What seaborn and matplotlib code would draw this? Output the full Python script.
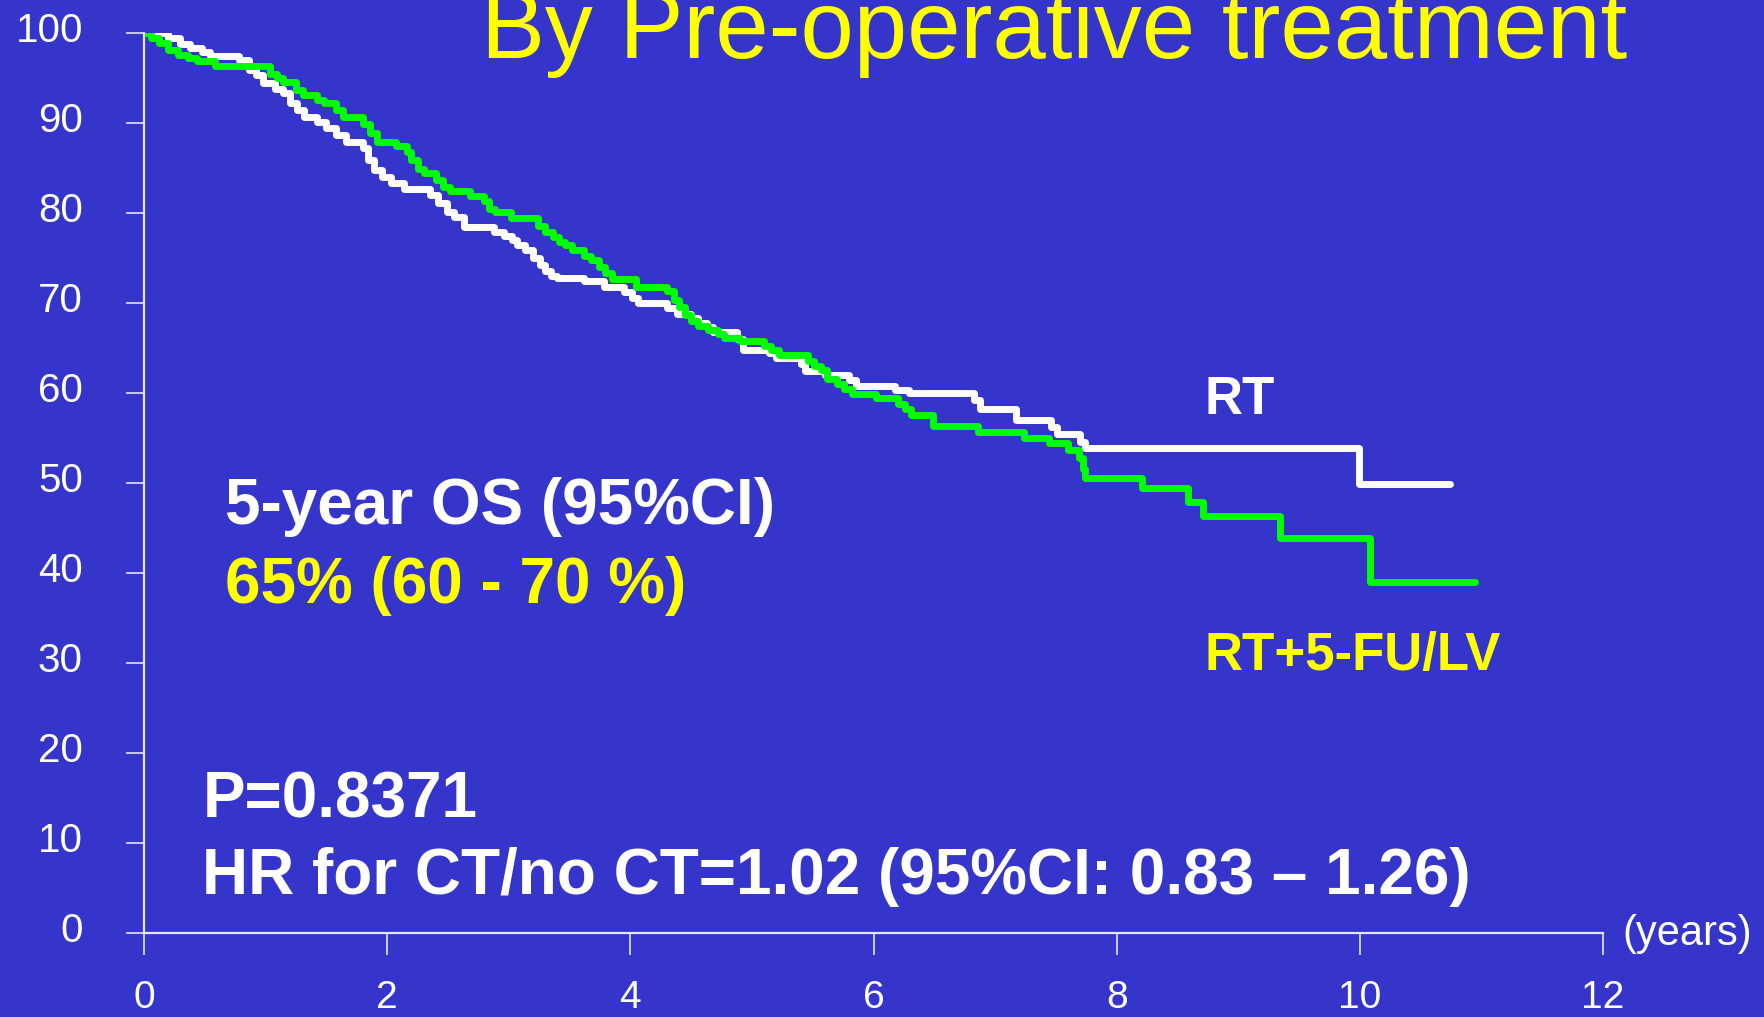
import pandas as pd
import matplotlib
matplotlib.use('Agg')
import matplotlib.pyplot as plt
import matplotlib.transforms as mtransforms
import seaborn as sns

# step points (time in years, survival %)
rt_time = [0, 0.20, 0.30, 0.38, 0.48, 0.54, 0.78, 0.86, 0.92, 0.98, 1.08, 1.14, 1.20, 1.26,
           1.32, 1.42, 1.50, 1.58, 1.66, 1.80, 1.84, 1.89, 1.96, 2.03, 2.14, 2.35, 2.42, 2.49,
           2.55, 2.63, 2.88, 2.96, 3.03, 3.07, 3.13, 3.20, 3.26, 3.30, 3.35, 3.40, 3.62, 3.78,
           3.95, 4.01, 4.06, 4.30, 4.38, 4.50, 4.56, 4.63, 4.68, 4.88, 4.93, 5.14, 5.20, 5.40,
           5.44, 5.60, 5.80, 5.86, 6.18, 6.29, 6.83, 6.88, 7.17, 7.46, 7.51, 7.70, 7.74, 9.99,
           10.74]
rt_surv = [100, 99.4, 98.8, 98.3, 97.9, 97.4, 97.0, 95.9, 95.3, 94.4, 93.8, 93.3, 92.2, 91.4,
           90.7, 90.1, 89.4, 88.7, 87.9, 87.2, 85.9, 84.8, 84.0, 83.3, 82.7, 82.0, 81.1, 80.1,
           79.6, 78.5, 77.9, 77.5, 77.0, 76.4, 75.9, 75.0, 74.2, 73.6, 73.0, 72.8, 72.4, 71.8,
           71.2, 70.6, 70.0, 69.4, 68.8, 68.3, 67.8, 67.3, 66.8, 66.0, 64.8, 64.4, 63.9, 63.2,
           62.4, 62.0, 61.4, 60.8, 60.3, 60.0, 59.2, 58.2, 57.0, 56.2, 55.4, 54.6, 53.9, 49.9,
           49.9]

ct_time = [0, 0.06, 0.12, 0.20, 0.28, 0.36, 0.44, 0.58, 1.04, 1.09, 1.14, 1.25, 1.31, 1.42,
           1.48, 1.58, 1.64, 1.80, 1.86, 1.92, 2.07, 2.16, 2.20, 2.25, 2.30, 2.40, 2.46, 2.52,
           2.68, 2.80, 2.84, 2.89, 3.02, 3.24, 3.30, 3.36, 3.41, 3.46, 3.52, 3.62, 3.68, 3.74,
           3.79, 3.85, 4.05, 4.30, 4.36, 4.40, 4.45, 4.50, 4.56, 4.64, 4.72, 4.77, 4.90, 5.10,
           5.16, 5.22, 5.46, 5.51, 5.57, 5.62, 5.70, 5.76, 5.82, 6.02, 6.20, 6.26, 6.31, 6.49,
           6.86, 7.24, 7.44, 7.60, 7.69, 7.72, 7.74, 8.21, 8.59, 8.71, 9.34, 10.08, 10.95]
ct_surv = [100, 99.4, 98.9, 98.1, 97.6, 97.2, 96.9, 96.3, 95.5, 95.0, 94.6, 93.7, 93.1, 92.6,
           92.2, 91.4, 90.7, 89.9, 88.9, 87.9, 87.4, 86.8, 85.9, 84.9, 84.4, 83.7, 82.9, 82.4,
           81.9, 81.3, 80.5, 80.1, 79.4, 78.6, 77.9, 77.3, 76.8, 76.4, 75.9, 75.2, 74.8, 74.0,
           73.3, 72.7, 71.8, 71.3, 70.3, 69.6, 68.7, 68.0, 67.4, 67.0, 66.6, 66.1, 65.8, 65.2,
           64.8, 64.2, 63.6, 63.0, 62.6, 61.6, 61.0, 60.5, 59.9, 59.5, 58.8, 58.2, 57.6, 56.3,
           55.7, 55.0, 54.4, 53.7, 52.8, 51.6, 50.6, 49.4, 47.9, 46.3, 43.9, 39.0, 39.0]

x_ticks = [0, 2, 4, 6, 8, 10, 12]
y_ticks = [0, 10, 20, 30, 40, 50, 60, 70, 80, 90, 100]

BG = '#3535CC'
AXC = '#E4E4F4'

df = pd.concat([
    pd.DataFrame({'t': rt_time, 's': rt_surv, 'arm': 'RT'}),
    pd.DataFrame({'t': ct_time, 's': ct_surv, 'arm': 'RT+5-FU/LV'}),
], ignore_index=True)

sns.set_style('white')
plt.rcParams['font.family'] = ['Liberation Sans', 'DejaVu Sans']

fig = plt.figure(figsize=(17.64, 10.17), dpi=100, facecolor=BG)
ax = fig.add_axes([144 / 1764, 1 - 933 / 1017, (1603 - 144) / 1764, 900 / 1017])
ax.set_facecolor(BG)

sns.lineplot(data=df, x='t', y='s', hue='arm', palette={'RT': 'white', 'RT+5-FU/LV': '#00FF00'},
             estimator=None, sort=False, drawstyle='steps-post', linewidth=5,
             legend=False, ax=ax)

ax.set_xlim(0, 12)
ax.set_ylim(0, 100)
ax.set_xticks(x_ticks)
ax.set_yticks(y_ticks)
ax.set_xlabel('')
ax.set_ylabel('')
for side in ['top', 'right']:
    ax.spines[side].set_visible(False)
for side in ['left', 'bottom']:
    ax.spines[side].set_color(AXC)
    ax.spines[side].set_linewidth(1.6)
ax.tick_params(axis='x', colors=AXC, labelcolor='white', length=16, width=1.2,
               direction='out', pad=18, labelsize=28)
ax.tick_params(axis='y', colors=AXC, labelcolor='white', length=13, width=1.2,
               direction='out', pad=31, labelsize=29)
ax.tick_params(bottom=True, left=True)

# y labels sit a little above their ticks in the original
shift = mtransforms.ScaledTranslation(0, 0.06, fig.dpi_scale_trans)
for lab in ax.get_yticklabels():
    lab.set_transform(lab.get_transform() + shift)

# annotations
ax.text(8.72, 59.2, 'RT', color='white', fontsize=38, fontweight='bold', va='center')
ax.text(8.72, 30.8, 'RT+5-FU/LV', color='#FFFF00', fontsize=38, fontweight='bold', va='center')
ax.text(0.67, 47.3, '5-year OS (95%CI)', color='white', fontsize=46, fontweight='bold', va='center')
ax.text(0.67, 38.5, '65% (60 - 70 %)', color='#FFFF00', fontsize=46, fontweight='bold', va='center')
ax.text(0.48, 14.7, 'P=0.8371', color='white', fontsize=46, fontweight='bold', va='center')
ax.text(0.48, 6.2, 'HR for CT/no CT=1.02 (95%CI: 0.83 \u2013 1.26)', color='white',
        fontsize=46, fontweight='bold', va='center')
ax.text(12.16, -0.1, '(years)', color='white', fontsize=30, va='center', clip_on=False)

fig.text(481 / 1764, 1 - 58 / 1017, 'By Pre-operative treatment', color='#FFFF00',
         fontsize=69, va='baseline', ha='left')

fig.savefig('out.png', dpi=100, facecolor=BG)
